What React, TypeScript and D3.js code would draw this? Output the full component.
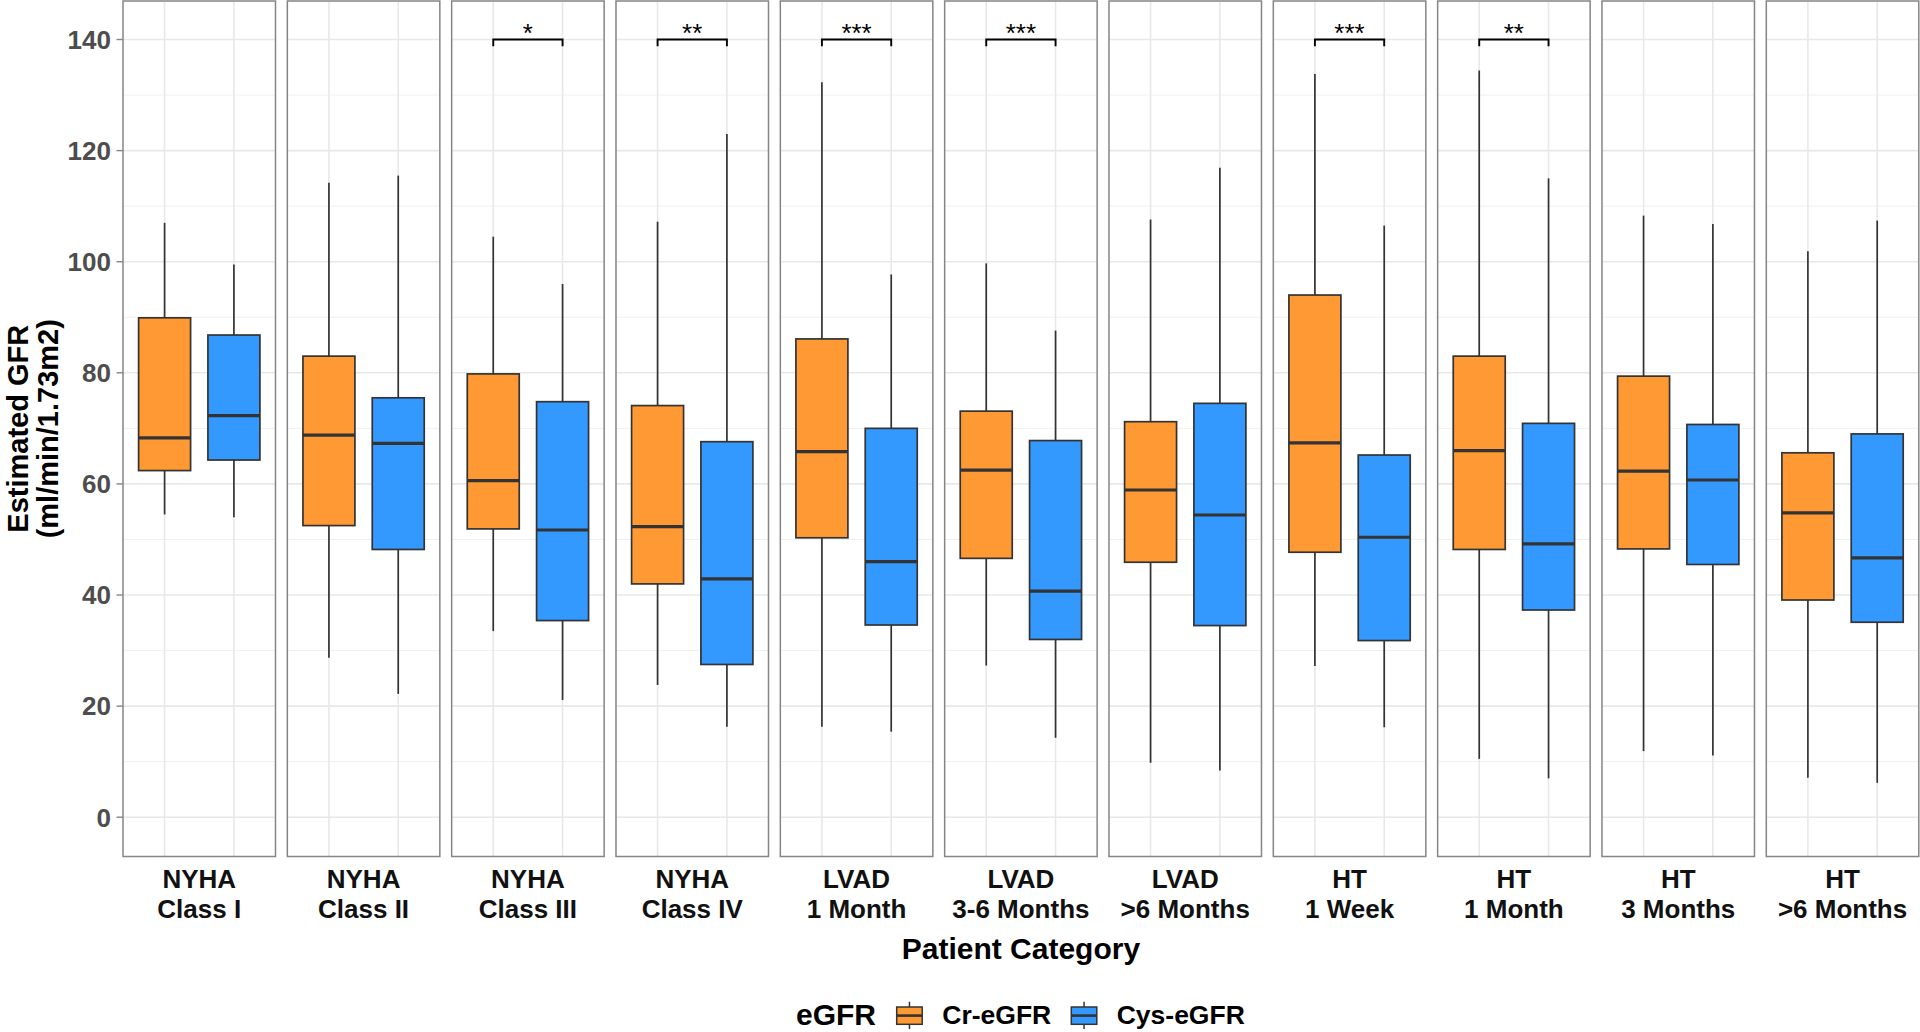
import React from "react";
import * as d3 from "d3";

const categories = [
  ["NYHA", "Class I"],
  ["NYHA", "Class II"],
  ["NYHA", "Class III"],
  ["NYHA", "Class IV"],
  ["LVAD", "1 Month"],
  ["LVAD", "3-6 Months"],
  ["LVAD", ">6 Months"],
  ["HT", "1 Week"],
  ["HT", "1 Month"],
  ["HT", "3 Months"],
  ["HT", ">6 Months"],
];

const seriesNames = ["Cr-eGFR", "Cys-eGFR"];
const seriesColors = ["#FF9933", "#3399FF"];

// [lower whisker, Q1, median, Q3, upper whisker]
const crStats = [
  [54.5, 62.4, 68.3, 89.9, 107.0],
  [28.7, 52.5, 68.8, 83.0, 114.2],
  [33.5, 51.9, 60.6, 79.8, 104.5],
  [23.8, 42.0, 52.3, 74.1, 107.2],
  [16.3, 50.3, 65.8, 86.1, 132.3],
  [27.3, 46.6, 62.5, 73.1, 99.7],
  [9.8, 45.9, 58.9, 71.2, 107.6],
  [27.2, 47.7, 67.4, 94.0, 133.8],
  [10.5, 48.2, 66.0, 83.0, 134.4],
  [11.9, 48.3, 62.3, 79.4, 108.3],
  [7.1, 39.1, 54.8, 65.6, 101.9],
];

const cysStats = [
  [54.0, 64.3, 72.3, 86.8, 99.5],
  [22.2, 48.2, 67.3, 75.5, 115.5],
  [21.1, 35.4, 51.7, 74.8, 96.0],
  [16.3, 27.5, 42.9, 67.6, 123.0],
  [15.4, 34.6, 46.0, 70.0, 97.7],
  [14.3, 32.0, 40.7, 67.8, 87.6],
  [8.4, 34.5, 54.4, 74.5, 116.9],
  [16.2, 31.8, 50.4, 65.2, 106.5],
  [7.0, 37.3, 49.2, 70.9, 115.0],
  [11.1, 45.5, 60.7, 70.7, 106.8],
  [6.2, 35.1, 46.7, 69.0, 107.4],
];

const signif = ["", "", "*", "**", "***", "***", "", "***", "**", "", ""];
const signifY = 140;

const yTicks = [0, 20, 40, 60, 80, 100, 120, 140];
const yMinor = [10, 30, 50, 70, 90, 110, 130];

const FONT = "'Liberation Sans', Arial, Helvetica, sans-serif";

export default function App() {
  const W = 1920;
  const H = 1032;
  const left = 123;
  const right = 1918.8;
  const top = 1;
  const bottom = 856.5;

  const facet = d3
    .scaleBand<number>()
    .domain(d3.range(categories.length))
    .range([left, right])
    .paddingInner(0.072)
    .paddingOuter(0);
  const bw = facet.bandwidth();
  const inner = d3.scaleLinear().domain([0.4, 2.6]).range([0, bw]);
  const boxW = inner(0.75) - inner(0);

  const y = d3.scaleLinear().domain([-7.07, 146.93]).range([bottom, top]);

  const allStats = [crStats, cysStats];
  const lineCol = "#333333";

  return (
    <svg
      width={W}
      height={H}
      style={{ position: "absolute", left: 0, top: 0, background: "#fff" }}
      fontFamily={FONT}
    >
      <rect x={0} y={0} width={W} height={H} fill="#fff" />
      {categories.map((cat, i) => {
        const x0 = facet(i)!;
        return (
          <g key={i} transform={`translate(${x0},0)`}>
            <rect x={0} y={top} width={bw} height={bottom - top} fill="#fff" />
            {yMinor.map((t) => (
              <line key={"m" + t} x1={0} x2={bw} y1={y(t)} y2={y(t)} stroke="#f0f0f0" strokeWidth={1} />
            ))}
            {yTicks.map((t) => (
              <line key={"M" + t} x1={0} x2={bw} y1={y(t)} y2={y(t)} stroke="#e8e8e8" strokeWidth={1.6} />
            ))}
            {[1, 2].map((k) => (
              <line key={"v" + k} x1={inner(k)} x2={inner(k)} y1={top} y2={bottom} stroke="#e8e8e8" strokeWidth={1.6} />
            ))}
            {allStats.map((stats, s) => {
              const [lo, q1, med, q3, hi] = stats[i];
              const cx = inner(s + 1);
              return (
                <g key={s}>
                  <line x1={cx} x2={cx} y1={y(hi)} y2={y(q3)} stroke={lineCol} strokeWidth={1.7} />
                  <line x1={cx} x2={cx} y1={y(q1)} y2={y(lo)} stroke={lineCol} strokeWidth={1.7} />
                  <rect
                    x={cx - boxW / 2}
                    y={y(q3)}
                    width={boxW}
                    height={y(q1) - y(q3)}
                    fill={seriesColors[s]}
                    stroke={lineCol}
                    strokeWidth={1.7}
                  />
                  <line x1={cx - boxW / 2} x2={cx + boxW / 2} y1={y(med)} y2={y(med)} stroke={lineCol} strokeWidth={3.2} />
                </g>
              );
            })}
            {signif[i] && (
              <g>
                <path
                  d={`M${inner(1)},${y(signifY - 1.2)}V${y(signifY)}H${inner(2)}V${y(signifY - 1.2)}`}
                  fill="none"
                  stroke="#000"
                  strokeWidth={1.9}
                />
                <text
                  x={(inner(1) + inner(2)) / 2}
                  y={y(signifY) + 3}
                  textAnchor="middle"
                  fontSize={26}
                  fill="#000"
                >
                  {signif[i]}
                </text>
              </g>
            )}
            <rect x={0} y={top} width={bw} height={bottom - top} fill="none" stroke="#858585" strokeWidth={1.5} />
            <text x={bw / 2} y={887.7} textAnchor="middle" fontSize={26} fontWeight="bold" fill="#111">
              {cat[0]}
            </text>
            <text x={bw / 2} y={917.7} textAnchor="middle" fontSize={26} fontWeight="bold" fill="#111">
              {cat[1]}
            </text>
          </g>
        );
      })}
      {/* y axis */}
      {yTicks.map((t) => (
        <g key={t}>
          <line x1={left - 6.5} x2={left} y1={y(t)} y2={y(t)} stroke="#858585" strokeWidth={1.4} />
          <text
            x={left - 12}
            y={y(t)}
            dy="0.36em"
            textAnchor="end"
            fontSize={26}
            fontWeight="bold"
            fill="#4d4d4d"
          >
            {t}
          </text>
        </g>
      ))}
      <g transform={`translate(0,${(top + bottom) / 2}) rotate(-90)`}>
        <text x={0} y={27.5} textAnchor="middle" fontSize={29} fontWeight="bold" fill="#000">
          Estimated GFR
        </text>
        <text x={0} y={58} textAnchor="middle" fontSize={29} fontWeight="bold" fill="#000">
          (ml/min/1.73m2)
        </text>
      </g>
      {/* x axis title */}
      <text x={(left + right) / 2} y={959.3} textAnchor="middle" fontSize={30} fontWeight="bold" fill="#000">
        Patient Category
      </text>
      {/* legend */}
      <g>
        <text x={876} y={1024.5} textAnchor="end" fontSize={30} fontWeight="bold" fill="#000">
          eGFR
        </text>
        {seriesNames.map((name, s) => {
          const kx = [896.7, 1071.3][s];
          const kw = 25.5;
          const cx = kx + kw / 2;
          return (
            <g key={name}>
              <line x1={cx} x2={cx} y1={1001.7} y2={1029} stroke={lineCol} strokeWidth={1.5} />
              <rect x={kx} y={1007} width={kw} height={17.3} fill={seriesColors[s]} stroke={lineCol} strokeWidth={1.5} />
              <line x1={kx} x2={kx + kw} y1={1015.6} y2={1015.6} stroke={lineCol} strokeWidth={2.6} />
              <text x={[942.3, 1116.7][s]} y={1024} fontSize={26.5} fontWeight="bold" fill="#000">
                {name}
              </text>
            </g>
          );
        })}
      </g>
    </svg>
  );
}
